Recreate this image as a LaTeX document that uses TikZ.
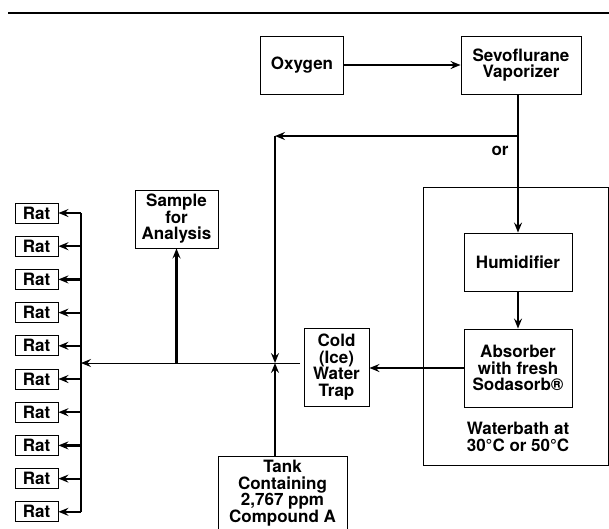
\documentclass[tikz,border=0pt]{standalone}
\usepackage{fontspec}
\setmainfont{TeX Gyre Heros}
\usetikzlibrary{arrows.meta, positioning, calc}

\begin{document}
\begin{tikzpicture}[x=1pt, y=-1pt,
  every node/.style={font=\fontsize{17}{16.5}\selectfont\bfseries},
  unit/.style={draw, line width=0.9pt, align=center, inner sep=0pt},
  ratbox/.style={unit, minimum width=43pt, minimum height=20pt},
  arr/.style={-{Stealth[length=10pt, width=8pt, inset=3.5pt]}, line width=2.2pt},
  thin arr/.style={-{Stealth[length=10pt, width=8pt, inset=3.5pt]}, line width=0.9pt},
  bus/.style={line width=2.2pt},
]
  \useasboundingbox (0,0) rectangle (609,528);
  \draw[line width=1.8pt] (8,13) -- (609,13);

  % supply side
  \node[unit, minimum width=83pt, minimum height=58pt] (oxygen) at (302,65) {Oxygen};
  \node[unit, minimum width=120pt, minimum height=58pt] (vapor) at (521,65) {Sevoflurane\\Vaporizer};
  \draw[arr] (oxygen.east) -- (vapor.west);

  \node[unit, minimum width=185pt, minimum height=278pt] (bath) at (515.5,326) {};
  \node[unit, minimum width=108pt, minimum height=58pt] (humid) at (518,262) {Humidifier};
  \node[unit, minimum width=108pt, minimum height=78pt] (absorb) at (518,368) {Absorber\\with fresh\\Sodasorb\textregistered};
  \node[align=center] (bathlabel) at (518,437) {Waterbath at\\30\textdegree C or 50\textdegree C};

  \coordinate (corner) at (275,136);
  \coordinate (split) at (humid.north |- corner);
  \draw[arr] (vapor.south -| humid.north) -- (humid.north);
  \draw[arr] (split) -- (corner);
  \node (or) at (500,151) {or};
  \draw[arr] (humid.south) -- (absorb.north);

  % mixing and delivery
  \node[unit, minimum width=65pt, minimum height=78pt] (trap) at (336.5,367) {Cold\\(Ice)\\Water\\Trap};
  \draw[arr] (absorb.west) -- (absorb.west -| trap.east);

  \coordinate (jn) at (275,363);
  \coordinate (jnend) at (300,363);
  \draw[arr] (corner) -- (jn);

  \node[unit, minimum width=129pt, minimum height=74pt] (tank) at (282.5,493) {Tank\\Containing\\2,767 ppm\\Compound A};
  \draw[arr] (tank.north -| jn) -- (jn);

  \node[unit, minimum width=83pt, minimum height=58pt] (sample) at (176.5,219) {Sample\\for\\Analysis};
  \coordinate (tap) at (sample.south |- jn);
  \draw[arr] (tap) -- (sample.south);

  \coordinate (feed) at (81,363);
  \draw[thin arr] (jnend) -- (feed);

  \foreach \i in {0,...,9} {
    \node[ratbox] (rat\i) at (36.5, 213+33.2*\i) {Rat};
    \coordinate (bus\i) at (81, 213+33.2*\i);
    \draw[arr] (bus\i) -- (rat\i.east);
  }
  \draw[bus] (bus0) -- (bus9);
\end{tikzpicture}
\end{document}
